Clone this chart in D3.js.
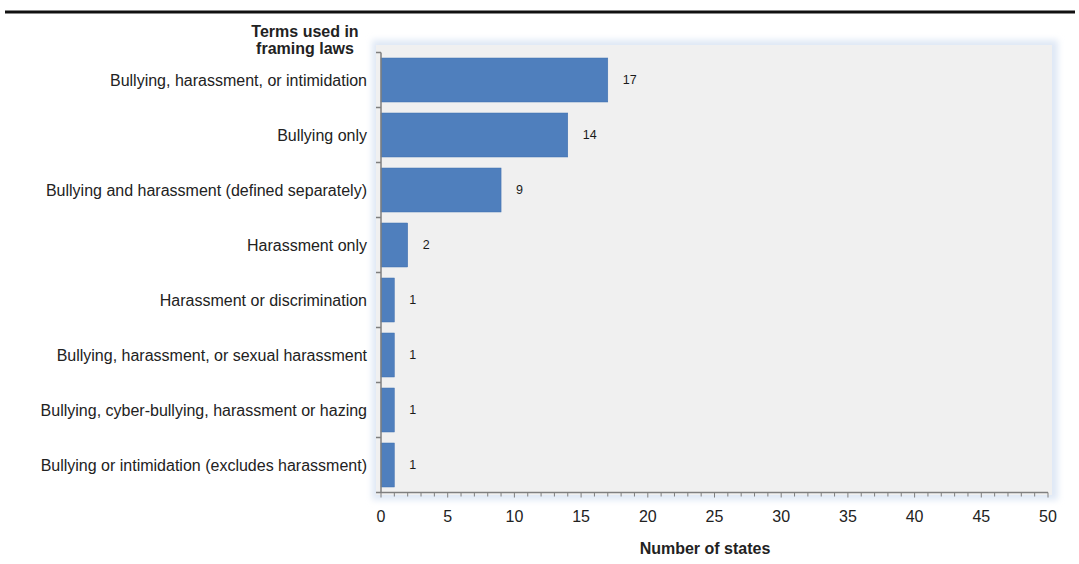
<!DOCTYPE html>
<html><head><meta charset="utf-8">
<script src="https://cdn.jsdelivr.net/npm/d3@7"></script>
<style>body{margin:0;background:#fff;}svg{display:block;font-family:"Liberation Sans",Arial,sans-serif;}</style>
</head><body>
<script>
const categories = [
  "Bullying, harassment, or intimidation",
  "Bullying only",
  "Bullying and harassment (defined separately)",
  "Harassment only",
  "Harassment or discrimination",
  "Bullying, harassment, or sexual harassment",
  "Bullying, cyber-bullying, harassment or hazing",
  "Bullying or intimidation (excludes harassment)"
];
const values = [17, 14, 9, 2, 1, 1, 1, 1];
const xTicks = [0, 5, 10, 15, 20, 25, 30, 35, 40, 45, 50];
const yTitle = ["Terms used in", "framing laws"];
const xTitle = "Number of states";

const W = 1079, H = 564;
const svg = d3.select("body").append("svg").attr("width", W).attr("height", H);

const defs = svg.append("defs");
const f = defs.append("filter").attr("id","glow").attr("x","-5%").attr("y","-5%").attr("width","110%").attr("height","110%");
f.append("feGaussianBlur").attr("stdDeviation", 3);

// top rule
svg.append("line").attr("x1",5).attr("x2",1075).attr("y1",12).attr("y2",12)
  .attr("stroke","#111").attr("stroke-width",3);

const x = d3.scaleLinear().domain([0, 50]).range([381, 1048]);
const y = d3.scaleBand().domain(categories).range([52.5, 492.5]).paddingInner(0.2).paddingOuter(0.1);

// plot background with soft bluish border
svg.append("rect").attr("x",372).attr("y",40).attr("width",686).attr("height",460)
  .attr("fill","#dfe8f5").attr("filter","url(#glow)");
svg.append("rect").attr("x",376).attr("y",45).attr("width",676).attr("height",450)
  .attr("fill","#f0f0f0");

// bars
svg.selectAll("rect.bar").data(values).join("rect").attr("class","bar")
  .attr("x", x(0)).attr("y", (d,i)=>y(categories[i]))
  .attr("width", d=>x(d)-x(0)).attr("height", y.bandwidth())
  .attr("fill","#4f7fbd").attr("stroke","#3f6fae").attr("stroke-width",0.5);

// value labels
svg.selectAll("text.val").data(values).join("text").attr("class","val")
  .attr("x", d=>x(d)+15).attr("y",(d,i)=>y(categories[i])+y.bandwidth()/2)
  .attr("dy","0.35em").attr("font-size",12.5).attr("fill","#1a1a1a").text(d=>d);

// category labels
svg.selectAll("text.cat").data(categories).join("text").attr("class","cat")
  .attr("x", 367).attr("y", d=>y(d)+y.bandwidth()/2).attr("dy","0.35em")
  .attr("text-anchor","end").attr("font-size",16).attr("fill","#222").text(d=>d);

// y axis line and band-boundary ticks
const axisColor = "#7f7f7f";
svg.append("line").attr("x1",x(0)).attr("x2",x(0)).attr("y1",52.5).attr("y2",492.5)
  .attr("stroke",axisColor).attr("stroke-width",1.5);
const bounds = d3.range(categories.length+1).map(i=>52.5 + i*y.step());
svg.selectAll("line.yt").data(bounds).join("line").attr("class","yt")
  .attr("x1",x(0)-5).attr("x2",x(0)).attr("y1",d=>d).attr("y2",d=>d)
  .attr("stroke",axisColor).attr("stroke-width",1.5);

// x axis
const gx = svg.append("g").attr("transform","translate(0,492.5)");
gx.append("line").attr("x1",x(0)).attr("x2",x(50)).attr("stroke",axisColor).attr("stroke-width",1.5);
const minor = d3.range(0,51,1);
gx.selectAll("line.mt").data(minor).join("line").attr("class","mt")
  .attr("x1",d=>x(d)).attr("x2",d=>x(d)).attr("y1",0).attr("y2",d=>d%5===0?5:4)
  .attr("stroke",axisColor).attr("stroke-width",1);
gx.selectAll("text").data(xTicks).join("text")
  .attr("x",d=>x(d)).attr("y",29).attr("text-anchor","middle")
  .attr("font-size",16).attr("fill","#222").text(d=>d);

// titles
svg.append("text").attr("x",705).attr("y",554).attr("text-anchor","middle")
  .attr("font-size",16).attr("font-weight","bold").attr("fill","#222").text(xTitle);
svg.selectAll("text.yt").data(yTitle).join("text").attr("class","yt")
  .attr("x",305).attr("y",(d,i)=>37+i*17).attr("text-anchor","middle")
  .attr("font-size",16).attr("font-weight","bold").attr("fill","#222").text(d=>d);
</script>
</body></html>
